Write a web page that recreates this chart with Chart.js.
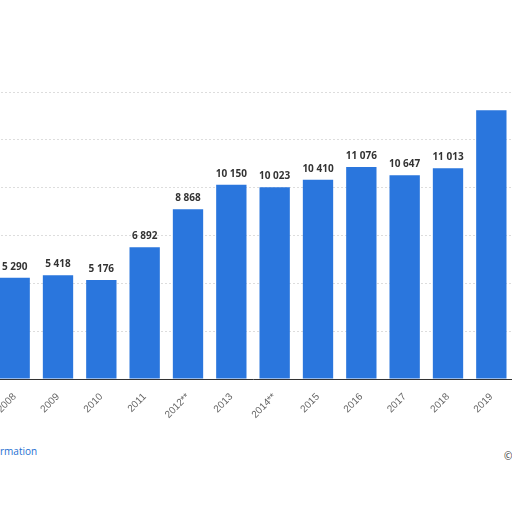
<!DOCTYPE html>
<html><head><script src="https://cdn.jsdelivr.net/npm/chart.js"></script>
<style>body{margin:0;background:#fff;overflow:hidden;width:512px;height:512px;position:relative;font-family:"Open Sans",sans-serif}
#w{position:absolute;left:-7px;top:0;width:520px;height:420px}
.f{position:absolute;font-size:10px}</style></head><body>
<div id="w"><canvas id="c"></canvas></div>
<div class="f" style="left:0;top:444px;color:#1d6fd1">rmation</div>
<div class="f" style="left:504px;top:449px;color:#333">©</div>
<script>
const categories=["2008","2009","2010","2011","2012**","2013","2014**","2015","2016","2017","2018","2019"];
const values=[5290,5418,5176,6892,8868,10150,10023,10410,11076,10647,11013,14050];
const showLabel=[true,true,true,true,true,true,true,true,true,true,true,false];
const fmt=v=>String(v).replace(/\B(?=(\d{3})+(?!\d))/g,' ');
new Chart(document.getElementById('c'),{type:'bar',
data:{labels:categories,datasets:[{data:values,backgroundColor:'#2a76dd',barPercentage:0.7,categoryPercentage:1}]},
options:{responsive:true,maintainAspectRatio:false,animation:false,
layout:{padding:{top:92,left:0,right:0,bottom:0}},
plugins:{legend:{display:false},tooltip:{enabled:false}},
scales:{x:{grid:{display:false},border:{display:true,color:'#333'},
ticks:{color:'#666',font:{size:10},minRotation:45,maxRotation:45,padding:4},
afterFit:s=>{s.height=41}},
y:{display:true,min:0,max:15000,ticks:{display:false,stepSize:2500},
grid:{color:'#ddd',drawTicks:false,tickBorderDash:[2,2]},border:{display:false,dash:[2,2]},afterFit:s=>{s.width=0}}}},
plugins:[{id:'lbl',afterDatasetsDraw(ch){const c=ch.ctx;c.save();c.font='bold 10px "Open Sans"';c.fillStyle='#333';c.textAlign='center';c.textBaseline='bottom';
ch.getDatasetMeta(0).data.forEach((b,i)=>{if(showLabel[i])c.fillText(fmt(values[i]),b.x,b.y-6)});c.restore();}}]
});
</script></body></html>
